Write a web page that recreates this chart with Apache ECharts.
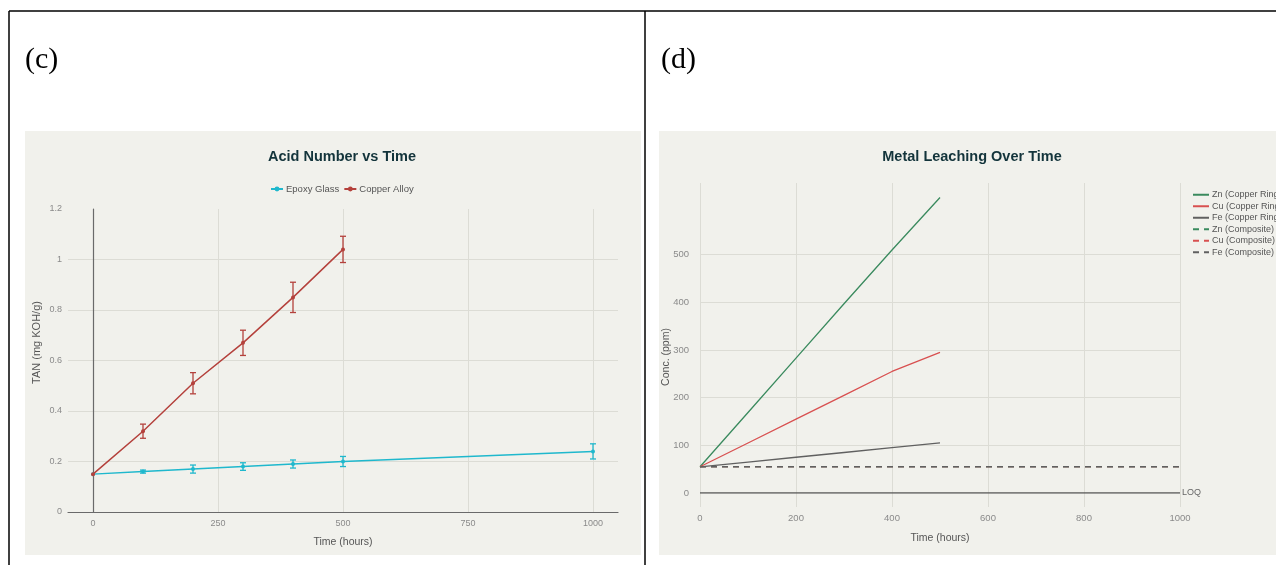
<!DOCTYPE html>
<html><head><meta charset="utf-8">
<script src="https://cdn.jsdelivr.net/npm/echarts@6/dist/echarts.min.js"></script>
<style>html,body{margin:0;padding:0;background:#fff}#c{width:1276px;height:565px}</style>
</head><body><div id="c"></div>
<script>
// ---- Panel (c): Acid Number vs Time ----
const tanTimes = [0, 100, 200, 300, 400, 500, 1000];
const epoxyTAN = [0.15, 0.16, 0.17, 0.18, 0.19, 0.20, 0.24];
const epoxyErr = [0, 0.006, 0.016, 0.015, 0.016, 0.02, 0.03];
const copperTimes = [0, 100, 200, 300, 400, 500];
const copperTAN = [0.15, 0.32, 0.51, 0.67, 0.85, 1.04];
const copperErr = [0, 0.028, 0.042, 0.05, 0.06, 0.052];
const cSeriesNames = ['Epoxy Glass', 'Copper Alloy'];

// ---- Panel (d): Metal Leaching Over Time ----
const ringTimes = [0, 100, 200, 300, 400, 500];
const znRing = [55, 169, 283, 397, 510, 620];
const cuRing = [55, 105, 155, 205, 255, 295];
const feRing = [55, 65, 75, 85, 95, 105];
const compTimes = [0, 500, 1000];
const znComp = [55, 55, 55];
const cuComp = [55, 55, 55];
const feComp = [55, 55, 55];
const loqTimes = [0, 1000];
const loqVals = [0, 0];
const dSeriesNames = ['Zn (Copper Ring)', 'Cu (Copper Ring)', 'Fe (Copper Ring)', 'Zn (Composite)', 'Cu (Composite)', 'Fe (Composite)'];

const zip = (a, b) => a.map((v, i) => [v, b[i]]);
const zip3 = (a, b, c) => a.map((v, i) => [v, b[i], c[i]]);

const FONT = 'Liberation Sans, Arial, sans-serif';
const GRID = '#dcdcd5';
const LBL = '#8a8a8a';
const TEAL = '#1FB8CD', RED_C = '#B4413C';
const GREEN = '#3A8A5E', RED_D = '#D85050', GRAY = '#606060';

function errBar(params, api) {
  const x = api.value(0), y = api.value(1), e = api.value(2);
  if (!e) return null;
  const t = api.coord([x, y + e]);
  const b = api.coord([x, y - e]);
  const w = 3;
  const st = { stroke: api.visual('color'), lineWidth: 1.3 };
  return { type: 'group', children: [
    { type: 'line', shape: { x1: t[0], y1: t[1], x2: b[0], y2: b[1] }, style: st },
    { type: 'line', shape: { x1: t[0] - w, y1: t[1], x2: t[0] + w, y2: t[1] }, style: st },
    { type: 'line', shape: { x1: b[0] - w, y1: b[1], x2: b[0] + w, y2: b[1] }, style: st }
  ]};
}

const chart = echarts.init(document.getElementById('c'), null, { renderer: 'canvas' });

const hide = { show: false };
const plainNum = v => String(v);
const option = {
  animation: false,
  textStyle: { fontFamily: FONT },
  graphic: [
    { type: 'rect', z: -10, shape: { x: 25, y: 131, width: 616, height: 424 }, style: { fill: '#f1f1ec' } },
    { type: 'rect', z: -10, shape: { x: 659, y: 131, width: 617, height: 424 }, style: { fill: '#f1f1ec' } },
    { type: 'line', z: 10, shape: { x1: 9, y1: 11, x2: 1276, y2: 11 }, style: { stroke: '#000', lineWidth: 1.5 } },
    { type: 'line', z: 10, shape: { x1: 9, y1: 11, x2: 9, y2: 565 }, style: { stroke: '#000', lineWidth: 1.5 } },
    { type: 'line', z: 10, shape: { x1: 645, y1: 11, x2: 645, y2: 565 }, style: { stroke: '#000', lineWidth: 1.5 } },
    { type: 'text', z: 10, x: 25, y: 60, style: { text: '(c)', font: '30px "Liberation Serif", "Times New Roman", serif', fill: '#000', textVerticalAlign: 'middle' } },
    { type: 'text', z: 10, x: 661, y: 60, style: { text: '(d)', font: '30px "Liberation Serif", "Times New Roman", serif', fill: '#000', textVerticalAlign: 'middle' } },
    { type: 'text', z: 10, x: 342, y: 157, style: { text: 'Acid Number vs Time', font: 'bold 14.5px "Liberation Sans", Arial, sans-serif', fill: '#13343B', textAlign: 'center', textVerticalAlign: 'middle' } },
    { type: 'text', z: 10, x: 972, y: 157, style: { text: 'Metal Leaching Over Time', font: 'bold 14.5px "Liberation Sans", Arial, sans-serif', fill: '#13343B', textAlign: 'center', textVerticalAlign: 'middle' } }
  ],
  legend: [
    { data: cSeriesNames, left: 265, top: 179, itemWidth: 12, itemHeight: 6, itemGap: 4,
      textStyle: { fontSize: 9.5, color: '#555', fontFamily: FONT, padding: [0, 0, 0, -2] } },
    { data: dSeriesNames, orient: 'vertical', left: 1187, top: 185, itemWidth: 16, itemHeight: 8, itemGap: 2,
      itemStyle: { opacity: 0 },
      textStyle: { fontSize: 9, color: '#555', lineHeight: 9.5, fontFamily: FONT, padding: [0, 0, 0, -2] } }
  ],
  grid: [
    { left: 68, top: 209, width: 550, height: 303 },
    { left: 93, top: 209, width: 500, height: 303 },
    { left: 700, top: 183, width: 480, height: 324 },
    { left: 700, top: 159.4, width: 480, height: 333.6 }
  ],
  xAxis: [
    { gridIndex: 0, type: 'value', min: -50, max: 1050,
      axisLine: { show: true, onZero: false, lineStyle: { color: '#6a6a6a', width: 1.2 } },
      axisTick: hide, axisLabel: hide, splitLine: hide },
    { gridIndex: 1, type: 'value', min: 0, max: 1000, interval: 250,
      axisLine: hide, axisTick: hide,
      axisLabel: { margin: 7, fontSize: 9, color: LBL, formatter: plainNum },
      splitLine: { show: true, lineStyle: { color: GRID, width: 1 } },
      name: 'Time (hours)', nameLocation: 'middle', nameGap: 25,
      nameTextStyle: { fontSize: 10.5, color: '#555' } },
    { gridIndex: 2, type: 'value', min: 0, max: 1000, interval: 200,
      axisLine: hide, axisTick: hide,
      axisLabel: { margin: 6, fontSize: 9.5, color: LBL, formatter: plainNum },
      splitLine: { show: true, lineStyle: { color: GRID, width: 1 } },
      name: 'Time (hours)', nameLocation: 'middle', nameGap: 26,
      nameTextStyle: { fontSize: 10.5, color: '#555' } },
    { gridIndex: 3, type: 'value', min: 0, max: 1000, show: false }
  ],
  yAxis: [
    { gridIndex: 0, type: 'value', min: 0, max: 1.2, interval: 0.2,
      axisLine: hide, axisTick: hide,
      axisLabel: { margin: 6, fontSize: 9, color: LBL },
      splitLine: { show: true, lineStyle: { color: ['transparent', GRID, GRID, GRID, GRID, GRID, 'transparent'], width: 1 } },
      name: 'TAN (mg KOH/g)', nameLocation: 'middle', nameGap: 26,
      nameTextStyle: { fontSize: 11, color: '#555', padding: [0, 0, 0, 36] } },
    { gridIndex: 1, type: 'value', min: 0, max: 1.2,
      axisLine: { show: true, onZero: false, lineStyle: { color: '#6a6a6a', width: 1.2 } },
      axisTick: hide, axisLabel: hide, splitLine: hide },
    { gridIndex: 2, type: 'value', min: 0, max: 1,
      axisLine: hide, axisTick: hide, axisLabel: hide, splitLine: hide,
      name: 'Conc. (ppm)', nameLocation: 'middle', nameGap: 28,
      nameTextStyle: { fontSize: 10.5, color: '#555', padding: [0, 24, 0, 0] } },
    { gridIndex: 3, type: 'value', min: 0, max: 700, interval: 100,
      axisLine: hide, axisTick: hide,
      axisLabel: { margin: 11, fontSize: 9.5, color: LBL, formatter: v => (v <= 500 ? String(v) : '') },
      splitLine: { show: true, lineStyle: { color: ['transparent', GRID, GRID, GRID, GRID, GRID, 'transparent', 'transparent'], width: 1 } } }
  ],
  series: [
    { name: 'Epoxy Glass', type: 'line', xAxisIndex: 1, yAxisIndex: 1, data: zip(tanTimes, epoxyTAN),
      color: TEAL, symbol: 'circle', symbolSize: 4, lineStyle: { width: 1.5 }, z: 3 },
    { name: 'Epoxy Glass err', type: 'custom', xAxisIndex: 1, yAxisIndex: 1, data: zip3(tanTimes, epoxyTAN, epoxyErr),
      color: TEAL, renderItem: errBar, encode: { x: 0, y: 1 }, z: 3 },
    { name: 'Copper Alloy', type: 'line', xAxisIndex: 1, yAxisIndex: 1, data: zip(copperTimes, copperTAN),
      color: RED_C, symbol: 'circle', symbolSize: 4, lineStyle: { width: 1.5 }, z: 4 },
    { name: 'Copper Alloy err', type: 'custom', xAxisIndex: 1, yAxisIndex: 1, data: zip3(copperTimes, copperTAN, copperErr),
      color: RED_C, renderItem: errBar, encode: { x: 0, y: 1 }, z: 4 },

    { name: 'LOQ', type: 'line', xAxisIndex: 3, yAxisIndex: 3, data: zip(loqTimes, loqVals),
      color: '#5a5a5a', symbol: 'none', lineStyle: { width: 1.3 },
      endLabel: { show: true, formatter: 'LOQ', fontSize: 9, color: '#666', distance: 2 } },
    { name: dSeriesNames[3], type: 'line', xAxisIndex: 3, yAxisIndex: 3, data: zip(compTimes, znComp),
      color: GREEN, symbol: 'none', lineStyle: { width: 1.1, type: [6, 5] } },
    { name: dSeriesNames[4], type: 'line', xAxisIndex: 3, yAxisIndex: 3, data: zip(compTimes, cuComp),
      color: RED_D, symbol: 'none', lineStyle: { width: 1.1, type: [6, 5] } },
    { name: dSeriesNames[5], type: 'line', xAxisIndex: 3, yAxisIndex: 3, data: zip(compTimes, feComp),
      color: GRAY, symbol: 'none', lineStyle: { width: 1.5, type: [6, 5] } },
    { name: dSeriesNames[0], type: 'line', xAxisIndex: 3, yAxisIndex: 3, data: zip(ringTimes, znRing),
      color: GREEN, symbol: 'none', lineStyle: { width: 1.3 } },
    { name: dSeriesNames[1], type: 'line', xAxisIndex: 3, yAxisIndex: 3, data: zip(ringTimes, cuRing),
      color: RED_D, symbol: 'none', lineStyle: { width: 1.3 } },
    { name: dSeriesNames[2], type: 'line', xAxisIndex: 3, yAxisIndex: 3, data: zip(ringTimes, feRing),
      color: GRAY, symbol: 'none', lineStyle: { width: 1.3 } }
  ]
};
chart.setOption(option);
</script>
</body></html>
